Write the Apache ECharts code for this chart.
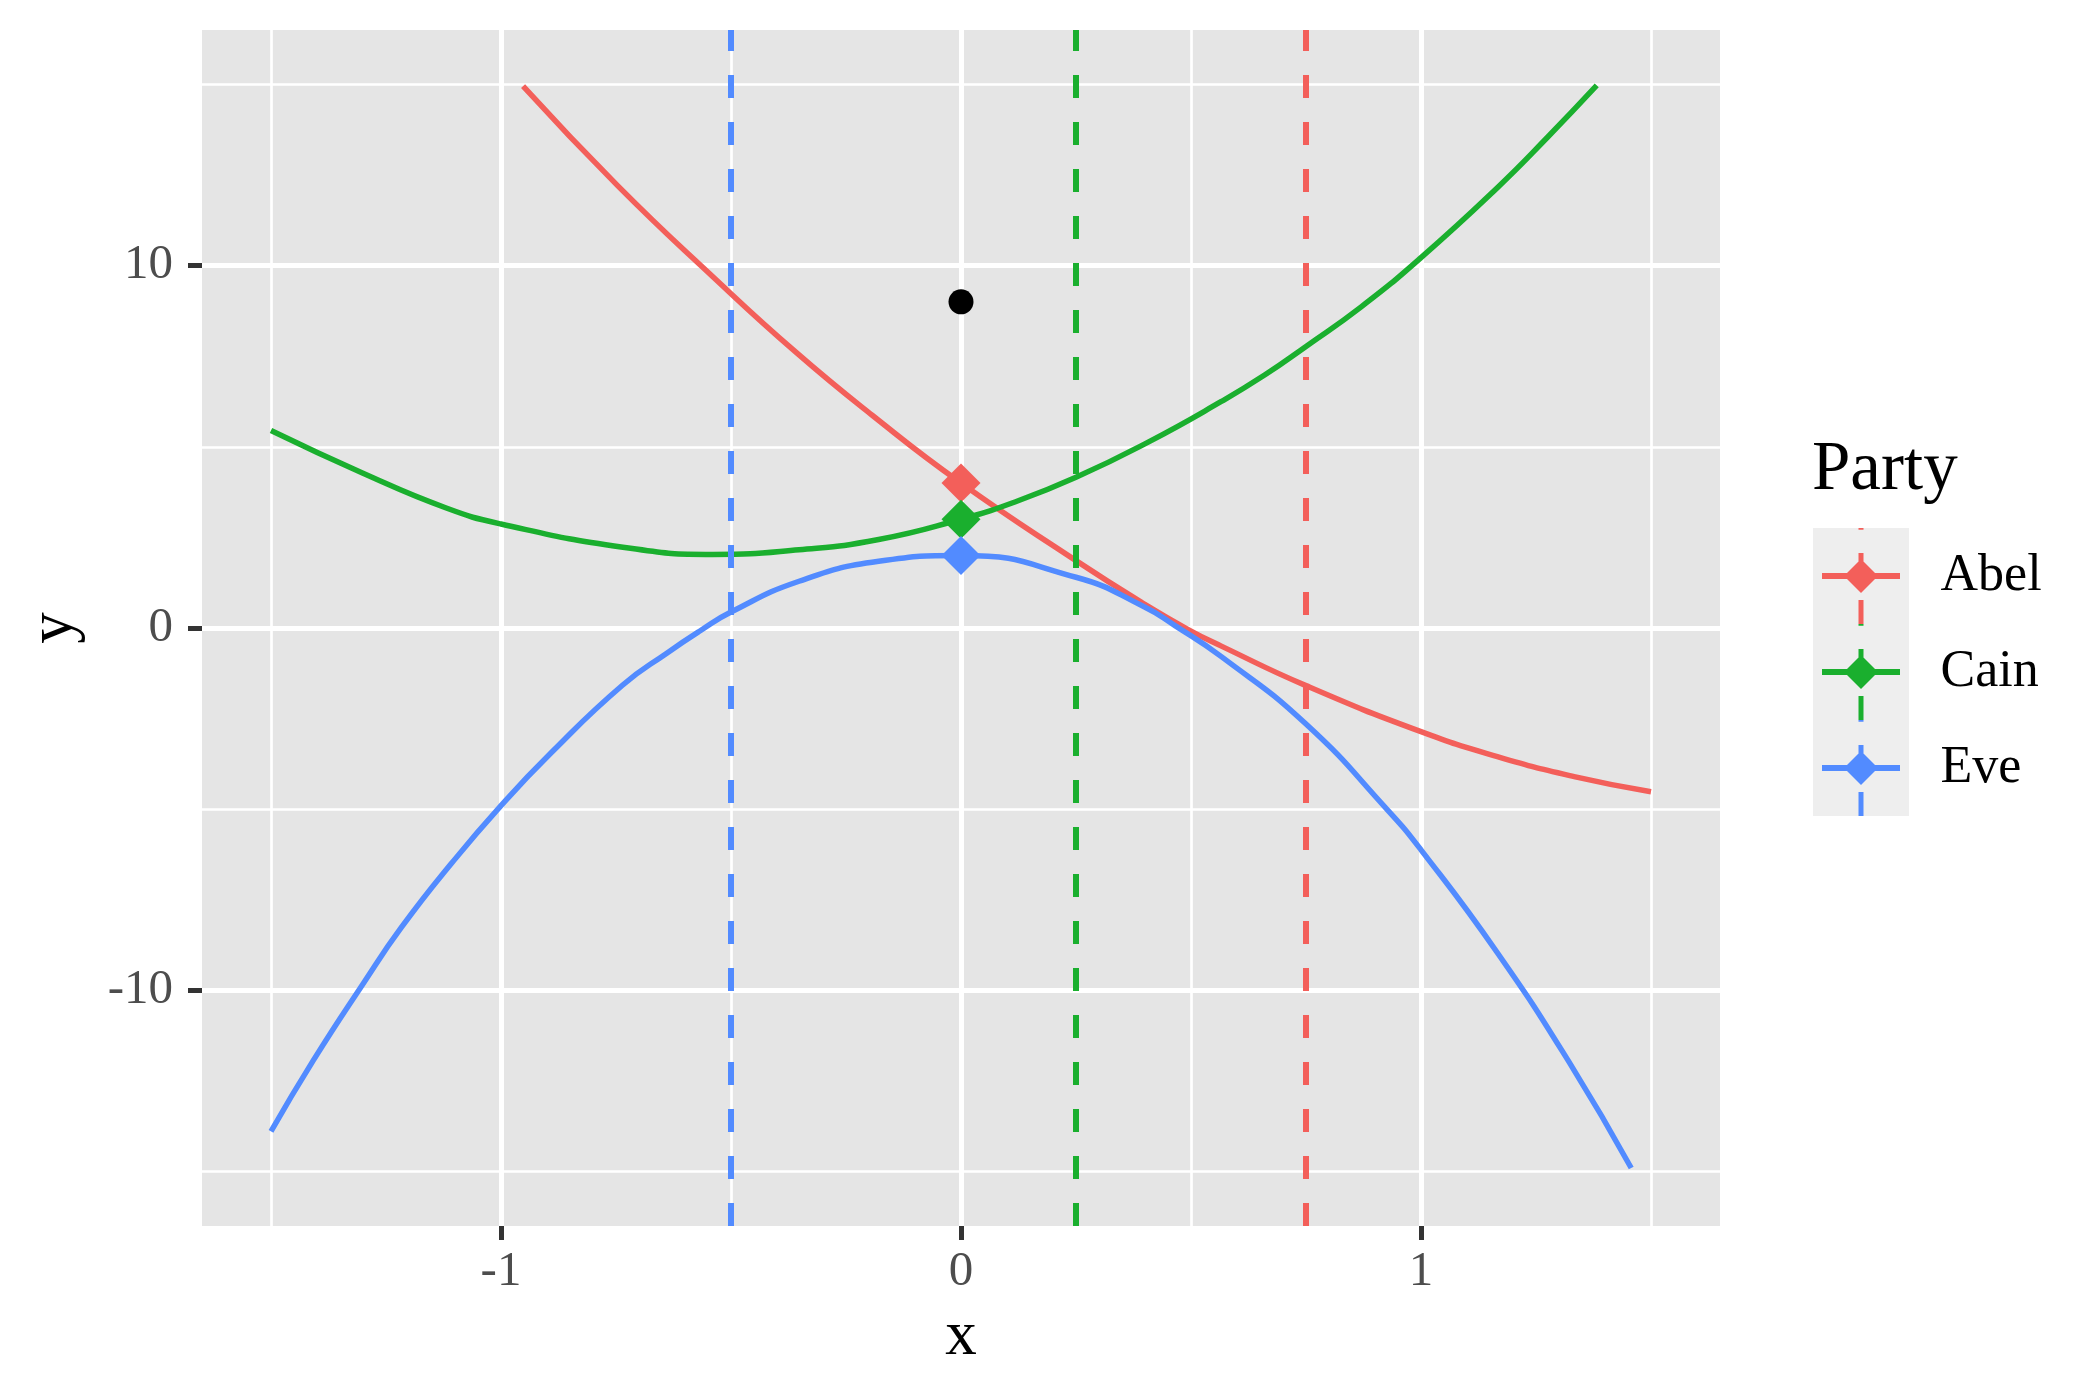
<!DOCTYPE html>
<html><head><meta charset="utf-8">
<script src="https://cdn.jsdelivr.net/npm/echarts@6/dist/echarts.min.js"></script>
<style>html,body{margin:0;padding:0;background:#fff}#c{width:2100px;height:1400px}</style>
</head><body><div id="c"></div>
<script>
// ---- data ----
const parties = ['Abel', 'Cain', 'Eve'];
const partyColors = ['#F35F5A', '#1AAF2E', '#528BFF'];

const abelX = [-0.952, -0.746, -0.54, -0.359, -0.193, 0, 0.25, 0.396, 0.495, 0.566, 0.75, 1.0, 1.166, 1.333, 1.5];
const abelY = [14.95, 12.2, 9.7, 7.61, 5.87, 4.0, 1.86, 0.68, -0.05, -0.50, -1.59, -2.86, -3.55, -4.10, -4.52];

const cainX = [-1.5, -1.3, -1.119, -1.0, -0.735, -0.54, -0.352, -0.179, 0, 0.111, 0.25, 0.407, 0.566, 0.66, 0.75, 0.87, 1.0, 1.166, 1.275, 1.382];
const cainY = [5.45, 4.27, 3.31, 2.87, 2.23, 2.03, 2.16, 2.44, 3.0, 3.45, 4.16, 5.13, 6.25, 6.98, 7.77, 8.86, 10.22, 12.15, 13.54, 14.97];

const eveX = [-1.5, -1.408, -1.299, -1.217, -1.108, -1.0, -0.8915, -0.736, -0.638, -0.566, -0.5, -0.352, -0.179, 0, 0.25, 0.396, 0.466, 0.566, 0.75, 0.928, 1.0, 1.166, 1.326, 1.457];
const eveY = [-13.89, -11.93, -9.8, -8.27, -6.5, -4.9, -3.45, -1.58, -0.68, -0.07, 0.44, 1.29, 1.84, 2.0, 1.40, 0.60, 0.06, -0.79, -2.65, -5.03, -6.12, -8.96, -12.06, -14.9];

const vlineX = [0.75, 0.25, -0.5];     // dashed vertical lines per party
const markerX = [0, 0, 0];             // diamond markers per party
const markerY = [4, 3, 2];
const pointX = [0];                    // black point
const pointY = [9];

const xMajor = [-1, 0, 1];
const xMinor = [-1.5, -0.5, 0.5, 1.5];
const yMajor = [-10, 0, 10];
const yMinor = [-15, -5, 5, 15];
const xTickLabels = ['-1', '0', '1'];
const yTickLabels = ['-10', '0', '10'];
const legendTitle = 'Party';

// ---- chart ----
const FONT = 'Liberation Serif';
const zip = (xs, ys) => xs.map((x, i) => [x, ys[i]]);
const curveX = [abelX, cainX, eveX];
const curveY = [abelY, cainY, eveY];

const keyIcon = 'path://M0 47.99 H0.02 V48.01 H0 Z M95.98 47.99 H96 V48.01 H95.98 Z ' +
  'M9 45 H87 V51 H9 Z M48 31 L65 48 L48 65 L31 48 Z ' +
  'M45.5 72 H50.5 V96 H45.5 Z M45.5 25 H50.5 V49 H45.5 Z M45.5 0 H50.5 V1.7 H45.5 Z';

const series = [];
parties.forEach((p, i) => {
  series.push({
    type: 'line', name: p, data: zip(curveX[i], curveY[i]),
    showSymbol: false, symbol: 'none', smooth: 0.5, z: 2,
    color: partyColors[i],
    lineStyle: { width: 5.5, color: partyColors[i] },
    markLine: {
      silent: true, symbol: ['none', 'none'], z: 3, animation: false,
      label: { show: false },
      lineStyle: { type: [23, 24], width: 6, color: partyColors[i] },
      data: [{ xAxis: vlineX[i] }]
    }
  });
});
parties.forEach((p, i) => {
  series.push({
    type: 'scatter', name: p, data: [[markerX[i], markerY[i]]],
    symbol: 'diamond', symbolSize: 39, z: 4,
    itemStyle: { color: partyColors[i], opacity: 1 }
  });
});
const gridLines = [
  ...xMajor.map(v => ({ xAxis: v, lineStyle: { width: 5 } })),
  ...xMinor.map(v => ({ xAxis: v, lineStyle: { width: 2.7 } })),
  ...yMajor.map(v => ({ yAxis: v, lineStyle: { width: 5 } })),
  ...yMinor.map(v => ({ yAxis: v, lineStyle: { width: 2.7 } }))
];
series.push({
  type: 'scatter', name: 'point', data: zip(pointX, pointY),
  symbol: 'circle', symbolSize: 25, z: 4,
  itemStyle: { color: '#000000', opacity: 1 },
  markLine: {
    silent: true, symbol: ['none', 'none'], z: 1, animation: false,
    label: { show: false },
    lineStyle: { type: 'solid', color: '#FFFFFF' },
    data: gridLines
  }
});

const option = {
  animation: false,
  textStyle: { fontFamily: FONT },
  grid: { left: 202, top: 30, right: 380, bottom: 174, show: true, backgroundColor: '#E5E5E5', borderWidth: 0, containLabel: false, outerBoundsMode: 'none' },
  xAxis: {
    type: 'value', min: -1.65, max: 1.65,
    axisLine: { show: false, onZero: false },
    splitLine: { show: false },
    axisTick: { show: true, length: 14, lineStyle: { color: '#333333', width: 5 }, customValues: xMajor },
    axisLabel: { customValues: xMajor, formatter: v => { const k = xMajor.indexOf(v); return k >= 0 ? xTickLabels[k] : String(v); },
      fontSize: 49, color: '#4D4D4D', margin: 22, fontFamily: FONT },
    name: 'x', nameLocation: 'middle', nameGap: 111,
    nameTextStyle: { fontSize: 63, color: '#000000', verticalAlign: 'middle', lineHeight: 63, fontFamily: FONT }
  },
  yAxis: {
    type: 'value', min: -16.5, max: 16.5,
    axisLine: { show: false, onZero: false },
    splitLine: { show: false },
    axisTick: { show: true, length: 14, lineStyle: { color: '#333333', width: 5 }, customValues: yMajor },
    axisLabel: { customValues: yMajor, formatter: v => { const k = yMajor.indexOf(v); return k >= 0 ? yTickLabels[k] : String(v); },
      fontSize: 49, color: '#4D4D4D', margin: 29, fontFamily: FONT },
    name: 'y', nameLocation: 'middle', nameGap: 148, nameRotate: 90,
    nameTextStyle: { fontSize: 63, color: '#000000', verticalAlign: 'middle', lineHeight: 63, fontFamily: FONT }
  },
  title: {
    text: legendTitle, left: 1812, top: 436, padding: 0,
    textStyle: { fontFamily: FONT, fontSize: 69, fontWeight: 'normal', color: '#000000', lineHeight: 69 }
  },
  legend: {
    data: parties, orient: 'vertical', left: 1813, top: 528, padding: 0,
    itemWidth: 96, itemHeight: 96, itemGap: 0, icon: keyIcon, selectedMode: false, z: 10,
    itemStyle: { borderWidth: 0 },
    textStyle: { fontFamily: FONT, fontSize: 52, color: '#000000', padding: [0, 0, 0, 26.5] }
  },
  graphic: { elements: [
    { type: 'rect', left: 1813, top: 528, z: 1, silent: true, shape: { width: 96, height: 288 }, style: { fill: '#EEEEEE' } }
  ] },
  series: series
};
echarts.init(document.getElementById('c'), null, { renderer: 'canvas' }).setOption(option);
</script>
</body></html>
